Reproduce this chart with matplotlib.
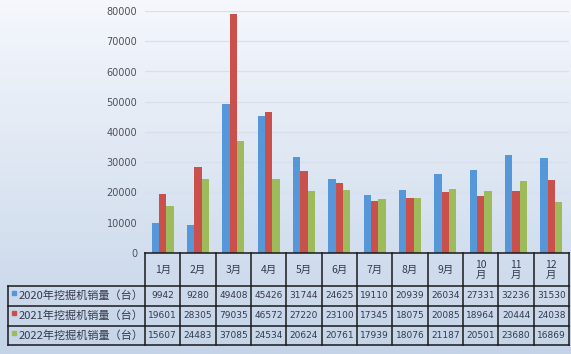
import numpy as np
import matplotlib
matplotlib.use("Agg")
import matplotlib.pyplot as plt
from matplotlib.lines import Line2D
from matplotlib.patches import Rectangle

plt.rcParams['font.family'] = ['Noto Sans CJK SC', 'DejaVu Sans']

months = ["1月", "2月", "3月", "4月", "5月", "6月", "7月", "8月", "9月",
          "10\n月", "11\n月", "12\n月"]
series_names = ["2020年挖掘机销量（台）", "2021年挖掘机销量（台）", "2022年挖掘机销量（台）"]
sales_2020 = [9942, 9280, 49408, 45426, 31744, 24625, 19110, 20939, 26034, 27331, 32236, 31530]
sales_2021 = [19601, 28305, 79035, 46572, 27220, 23100, 17345, 18075, 20085, 18964, 20444, 24038]
sales_2022 = [15607, 24483, 37085, 24534, 20624, 20761, 17939, 18076, 21187, 20501, 23680, 16869]
colors = ["#5597d8", "#c9504b", "#9dbb5a"]

W, H = 571, 354
fig = plt.figure(figsize=(W / 100, H / 100), dpi=100)

# background gradient over the whole chart
bg = fig.add_axes([0, 0, 1, 1], zorder=0)
grad = np.linspace(0, 1, 256).reshape(-1, 1)
top_c = np.array([0.96, 0.97, 0.99])
bot_c = np.array([0.77, 0.83, 0.91])
img = top_c * (1 - grad[..., None]) + bot_c * grad[..., None]
img = img.reshape(256, 1, 3)
bg.imshow(img, aspect="auto", extent=[0, 1, 0, 1])
bg.set_axis_off()

# plot area in pixels
x0, x1 = 145, 569
y_top, y_zero = 11, 253
ax = fig.add_axes([x0 / W, (H - y_zero) / H, (x1 - x0) / W, (y_zero - y_top) / H], zorder=2)
ax.set_facecolor("none")

data = [sales_2020, sales_2021, sales_2022]
x = np.arange(len(months))
bw = 0.21
for i, vals in enumerate(data):
    ax.bar(x + (i - 1) * bw, vals, width=bw, color=colors[i], zorder=3)

ax.set_xlim(-0.5, len(months) - 0.5)
ax.set_ylim(0, 80000)
ax.set_yticks(np.arange(0, 80001, 10000))
ax.yaxis.grid(True, color="#d9dfeb", linewidth=0.9)
ax.set_axisbelow(True)
for s in ["top", "right", "left", "bottom"]:
    ax.spines[s].set_visible(False)
ax.tick_params(axis="y", length=0, labelsize=7, labelcolor="#505058", pad=5.5,
               labelfontfamily="DejaVu Sans")
ax.tick_params(axis="x", length=0, labelbottom=False)

# data table drawn in pixel coordinates
tb = fig.add_axes([0, 0, 1, 1], zorder=3)
tb.set_xlim(0, W)
tb.set_ylim(H, 0)
tb.set_axis_off()
tb.patch.set_alpha(0)

col_w = (x1 - x0) / len(months)
row_edges = [253, 286, 306, 326, 345]
left = 8
lc = "#1a1a1a"
lw = 1.1
txt_c = "#353a4a"

# horizontal lines
tb.add_line(Line2D([x0, x1], [row_edges[0]] * 2, color=lc, lw=lw))
for y in row_edges[1:]:
    tb.add_line(Line2D([left, x1], [y, y], color=lc, lw=lw))
# vertical lines
for j in range(len(months) + 1):
    xx = x0 + j * col_w
    tb.add_line(Line2D([xx, xx], [row_edges[0], row_edges[-1]], color=lc, lw=lw))
tb.add_line(Line2D([left, left], [row_edges[1], row_edges[-1]], color=lc, lw=lw))

for j, m in enumerate(months):
    cx = x0 + (j + 0.5) * col_w
    tb.text(cx, (row_edges[0] + row_edges[1]) / 2, m, ha="center", va="center",
            fontsize=7.5, color=txt_c, linespacing=1.0)

for i, (name, vals) in enumerate(zip(series_names, data)):
    cy = (row_edges[i + 1] + row_edges[i + 2]) / 2
    tb.add_patch(Rectangle((12, cy - 5), 4, 4, color=colors[i]))
    tb.text(19, cy, name, ha="left", va="center", fontsize=8, color=txt_c)
    for j, v in enumerate(vals):
        cx = x0 + (j + 0.5) * col_w
        tb.text(cx, cy, str(v), ha="center", va="center", fontsize=6.5,
                color=txt_c, family="DejaVu Sans")

fig.savefig("out.png", dpi=100)
